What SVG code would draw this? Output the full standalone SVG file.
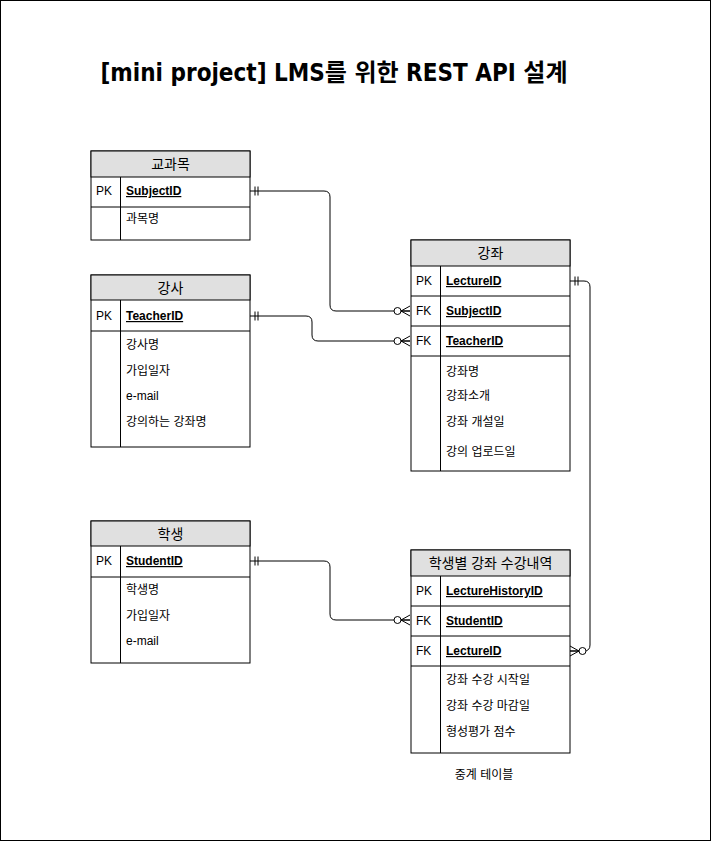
<svg xmlns="http://www.w3.org/2000/svg" width="712" height="842" viewBox="0 0 712 842">
<style>
.box{fill:#ffffff;stroke:#000;stroke-width:1}
.hdr{fill:#e0e0e0;stroke:#000;stroke-width:1}
.ln{stroke:#000;stroke-width:1;fill:none}
.t{font-family:"Liberation Sans","Noto Sans CJK KR",sans-serif;font-size:12px;fill:#000}
.h{font-family:"Liberation Sans","Noto Sans CJK KR",sans-serif;font-size:14px;fill:#000;text-anchor:middle}
.k{font-family:"Liberation Sans","Noto Sans CJK KR",sans-serif;font-size:12px;fill:#000;font-weight:bold;text-decoration:underline}
.c{stroke:#000;stroke-width:1;fill:none}
</style>
<defs>
<marker id="one" markerUnits="userSpaceOnUse" viewBox="-20 -10 20 20" refX="0" refY="0" markerWidth="20" markerHeight="20" orient="auto-start-reverse" overflow="visible">
<path d="M-5,-4.5V4.5M-8,-4.5V4.5" stroke="#000" stroke-width="1" fill="none"/>
</marker>
<marker id="many" markerUnits="userSpaceOnUse" viewBox="-20 -10 20 20" refX="0" refY="0" markerWidth="20" markerHeight="20" orient="auto-start-reverse" overflow="visible">
<path d="M-9,0L0,-5M-9,0L0,0M-9,0L0,5" stroke="#000" stroke-width="1" fill="none"/>
<circle cx="-12.5" cy="0" r="3.5" fill="#fff" stroke="#000" stroke-width="1"/>
</marker>
</defs>
<rect x="0.5" y="0.5" width="710" height="840" fill="#fff" stroke="#000" stroke-width="1"/>
<text x="334" y="81" font-family="'DejaVu Sans Condensed','DejaVu Sans','Noto Sans CJK KR',sans-serif" font-size="24" font-weight="bold" text-anchor="middle">[mini project] LMS를 위한 REST API 설계</text>

<g id="connectors">
<path class="c" d="M250,191H324Q330,191 330,197V305Q330,311 336,311H410" marker-start="url(#one)" marker-end="url(#many)"/>
<path class="c" d="M250,316H306Q312,316 312,322V335Q312,341 318,341H410" marker-start="url(#one)" marker-end="url(#many)"/>
<path class="c" d="M250,561H324Q330,561 330,567V614Q330,620 336,620H410" marker-start="url(#one)" marker-end="url(#many)"/>
<path class="c" d="M570,281H584Q590,281 590,287V645Q590,651 584,651H570" marker-start="url(#one)" marker-end="url(#many)"/>
</g>

<g id="subject">
<rect class="box" x="91" y="151" width="159" height="89"/>
<rect class="hdr" x="91" y="151" width="159" height="26"/>
<text class="h" x="170.5" y="169">교과목</text>
<path class="ln" d="M91,207H250M120.5,177V240"/>
<text class="t" x="96" y="195">PK</text>
<text class="k" x="126" y="195">SubjectID</text>
<text class="t" x="126" y="223">과목명</text>
</g>

<g id="teacher">
<rect class="box" x="91" y="275" width="159" height="172"/>
<rect class="hdr" x="91" y="275" width="159" height="25"/>
<text class="h" x="170.5" y="293">강사</text>
<path class="ln" d="M91,331H250M120.5,300V447"/>
<text class="t" x="96" y="320">PK</text>
<text class="k" x="126" y="320">TeacherID</text>
<text class="t" x="126" y="349">강사명</text>
<text class="t" x="126" y="375">가입일자</text>
<text class="t" x="126" y="400">e-mail</text>
<text class="t" x="126" y="426">강의하는 강좌명</text>
</g>

<g id="student">
<rect class="box" x="91" y="521" width="159" height="142"/>
<rect class="hdr" x="91" y="521" width="159" height="25"/>
<text class="h" x="170.5" y="539">학생</text>
<path class="ln" d="M91,577H250M120.5,546V663"/>
<text class="t" x="96" y="565">PK</text>
<text class="k" x="126" y="565">StudentID</text>
<text class="t" x="126" y="594">학생명</text>
<text class="t" x="126" y="620">가입일자</text>
<text class="t" x="126" y="645">e-mail</text>
</g>

<g id="lecture">
<rect class="box" x="411" y="240" width="159" height="231"/>
<rect class="hdr" x="411" y="240" width="159" height="26"/>
<text class="h" x="490.5" y="258">강좌</text>
<path class="ln" d="M411,296H570M411,326H570M411,356H570M440.5,266V471"/>
<text class="t" x="416" y="285">PK</text>
<text class="k" x="446" y="285">LectureID</text>
<text class="t" x="416" y="315">FK</text>
<text class="k" x="446" y="315">SubjectID</text>
<text class="t" x="416" y="345">FK</text>
<text class="k" x="446" y="345">TeacherID</text>
<text class="t" x="446" y="376">강좌명</text>
<text class="t" x="446" y="400">강좌소개</text>
<text class="t" x="446" y="426">강좌 개설일</text>
<text class="t" x="446" y="456">강의 업로드일</text>
</g>

<g id="history">
<rect class="box" x="411" y="550" width="159" height="203"/>
<rect class="hdr" x="411" y="550" width="159" height="26"/>
<text class="h" x="490.5" y="568">학생별 강좌 수강내역</text>
<path class="ln" d="M411,606H570M411,636H570M411,666H570M440.5,576V753"/>
<text class="t" x="416" y="595">PK</text>
<text class="k" x="446" y="595">LectureHistoryID</text>
<text class="t" x="416" y="625">FK</text>
<text class="k" x="446" y="625">StudentID</text>
<text class="t" x="416" y="655">FK</text>
<text class="k" x="446" y="655">LectureID</text>
<text class="t" x="446" y="684">강좌 수강 시작일</text>
<text class="t" x="446" y="710">강좌 수강 마감일</text>
<text class="t" x="446" y="736">형성평가 점수</text>
</g>

<g id="note">
<text class="t" x="484" y="779" text-anchor="middle">중계 테이블</text>
</g>
</svg>
